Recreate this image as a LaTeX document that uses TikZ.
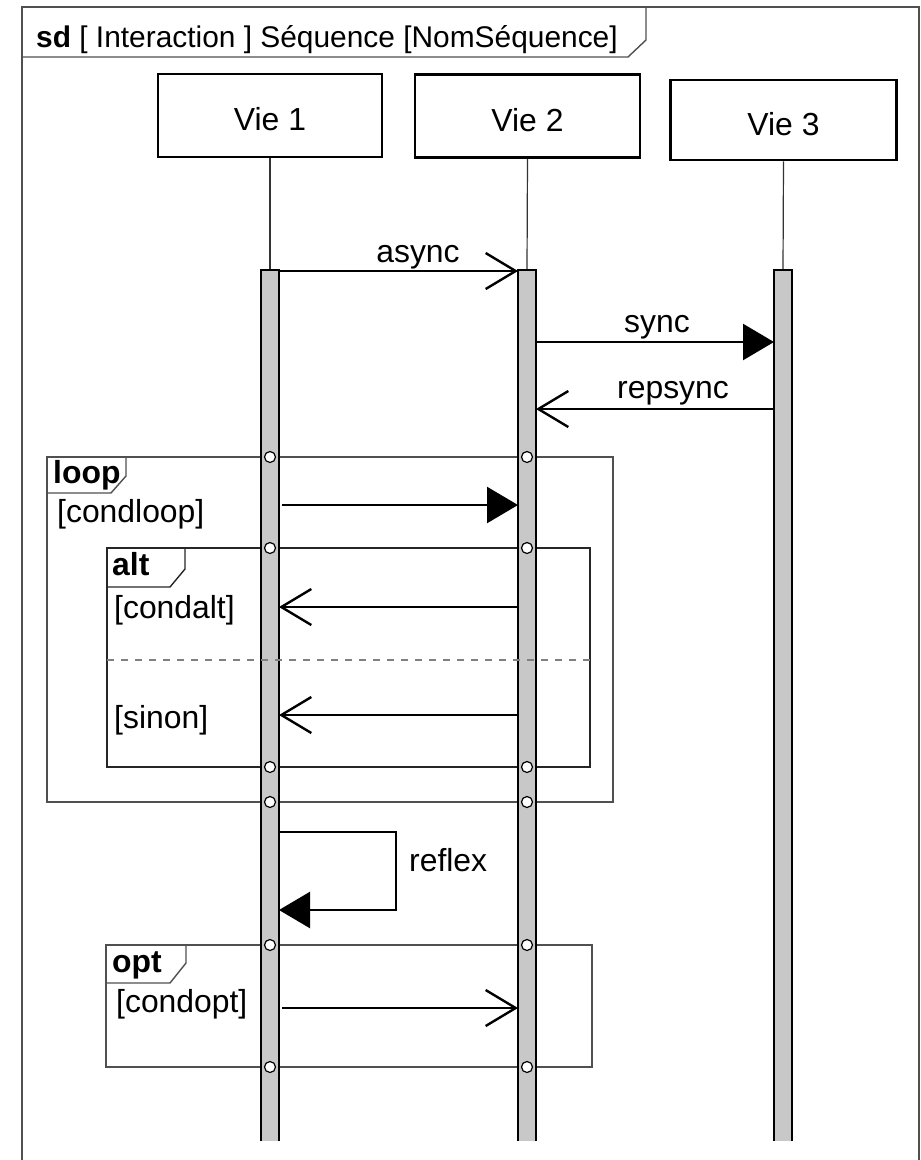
\documentclass[tikz,border=0pt]{standalone}
\usepackage{fontspec}
\setmainfont{Liberation Sans}
\usetikzlibrary{arrows.meta}
\definecolor{barfill}{HTML}{C8C8C8}
\definecolor{frameline}{HTML}{505050}
\begin{document}
\begin{tikzpicture}[x=1bp,y=-1bp,
  lbl/.style={font=\fontsize{32}{36}\selectfont, inner sep=0},
  tagtxt/.style={font=\fontsize{32}{36}\selectfont\bfseries, inner sep=0},
  headbox/.style={draw=black, line width=2.5bp, fill=white, minimum width=224bp, minimum height=83bp, inner sep=0, text height=30bp, text depth=0bp, font=\fontsize{32}{36}\selectfont},
  frm/.style={draw=frameline, line width=1.4bp},
  lifeline/.style={draw=black!80, line width=1.2bp},
  bar/.style={draw=black, line width=2.5bp},
  msg/.style={line width=2.5bp},
  openhead/.style={msg, -{Straight Barb[length=30bp,width=36bp,line width=2.4bp]}},
  fullhead/.style={msg, -{Triangle[length=31bp,width=36bp]}},
  gate/.style={circle, draw=black, fill=white, line width=1.2bp, minimum size=11bp, inner sep=0},
  sepline/.style={draw=gray, line width=1.3bp, dash pattern=on 7bp off 7bp}
]
\useasboundingbox (0,0) rectangle (921,1160);

% outer frame
\draw[frm] (22,1160) -- (22,7) -- (919,7) -- (919,1160);
\draw[frm] (22,57) -- (628,57) -- (646,40) -- (646,7);
\node[lbl, anchor=base west, font=\fontsize{30}{34}\selectfont] (title) at (36,47) {\textbf{sd} [ Interaction ] Séquence [NomSéquence]};

% lifeline heads
\node[headbox] (v1) at (270,115.5) {Vie 1};
\node[headbox, minimum width=225bp] (v2) at (527.5,116) {Vie 2};
\node[headbox, minimum width=226bp, minimum height=80bp] (v3) at (783.5,120) {Vie 3};

% combined fragments (behind bars)
% loop
\draw[frm] (47,457) rectangle (613,802);
\draw[frm] (47,493) -- (111,493) -- (126,476) -- (126,457);
\node[tagtxt, anchor=base west] (looptag) at (53,483) {loop};
\node[lbl, anchor=base west] (loopcond) at (57,522) {[condloop]};
% alt
\draw[frm, draw=black!85] (107,548) rectangle (590,767);
\draw[frm, draw=black!85] (107,587) -- (170,587) -- (185,569) -- (185,548);
\node[tagtxt, anchor=base west] (alttag) at (112,575) {alt};
\node[lbl, anchor=base west] (altcond) at (114,618) {[condalt]};
\node[lbl, anchor=base west] (altelse) at (114,728) {[sinon]};
% opt
\draw[frm] (106,945) rectangle (592,1067);
\draw[frm] (106,983) -- (170,983) -- (186,963) -- (186,945);
\node[tagtxt, anchor=base west] (opttag) at (112,972) {opt};
\node[lbl, anchor=base west] (optcond) at (116,1012) {[condopt]};

% lifelines and activation bars
\foreach \n/\x in {1/270,2/527,3/783}{
  \coordinate (top\n) at (\x,270);
  \draw[lifeline] (v\n.south) -- (top\n);
  \fill[barfill] (\x-9,270) rectangle (\x+9,1141);
  \draw[bar] (\x-9,1141) -- (\x-9,270) -- (\x+9,270) -- (\x+9,1141);
}

% alt separator
\draw[sepline] (107,660) -- (590,660);

% gates on fragment borders
\foreach \y [count=\i] in {457,548,767,802,945,1067}{
  \node[gate] (ga\i) at (270,\y) {};
  \node[gate] (gb\i) at (527,\y) {};
}

% message endpoints
\coordinate (a1) at (279,271);  \coordinate (a2) at (518,271);
\coordinate (s1) at (536,342);  \coordinate (s2) at (774,342);
\coordinate (r1) at (774,409);  \coordinate (r2) at (536,409);
\coordinate (l1) at (282,505);  \coordinate (l2) at (518,505);
\coordinate (c1) at (518,607);  \coordinate (c2) at (279,607);
\coordinate (e1) at (518,715);  \coordinate (e2) at (279,715);
\coordinate (f1) at (279,832);  \coordinate (f2) at (396,832);
\coordinate (f3) at (396,910);  \coordinate (f4) at (279,910);
\coordinate (o1) at (282,1008); \coordinate (o2) at (518,1008);

% messages
\draw[openhead] (a1) -- (a2);
\node[lbl, anchor=base] (asynclbl) at (418,262) {async};
\draw[fullhead] (s1) -- (s2);
\node[lbl, anchor=base] (synclbl) at (657,332) {sync};
\draw[openhead] (r1) -- (r2);
\node[lbl, anchor=base] (replbl) at (673,398) {repsync};
\draw[fullhead] (l1) -- (l2);
\draw[openhead] (c1) -- (c2);
\draw[openhead] (e1) -- (e2);
\draw[fullhead] (f1) -- (f2) -- (f3) -- (f4);
\node[lbl, anchor=base west] (reflexlbl) at (409,871) {reflex};
\draw[openhead] (o1) -- (o2);
\end{tikzpicture}
\end{document}
